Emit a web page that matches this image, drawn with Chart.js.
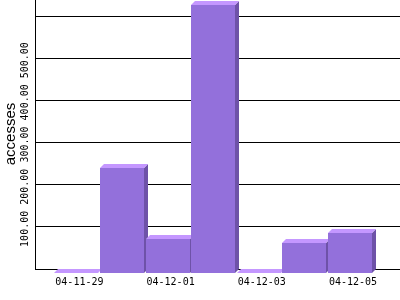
<!DOCTYPE html>
<html>
<head>
<meta charset="utf-8">
<script src="https://cdn.jsdelivr.net/npm/chart.js@4/dist/chart.umd.min.js"></script>
<style>
html,body{margin:0;padding:0;background:#fff;}
#c{display:block;}
</style>
</head>
<body>
<canvas id="c" width="400" height="300"></canvas>
<script>
const categories = ['04-11-29','04-11-30','04-12-01','04-12-02','04-12-03','04-12-04','04-12-05'];
const accesses = [0, 248, 80, 636, 0, 70, 96];
const yTickValues = [100, 200, 300, 400, 500];
const yTickLabels = ['100.00', '200.00', '300.00', '400.00', '500.00'];
const yTitle = 'accesses';

const FRONT = '#9370DB', TOP = '#C497FF', SIDE = '#6E52A8';

const box3d = {
  id: 'box3d',
  afterDatasetsDraw(chart) {
    const ctx = chart.ctx;
    const meta = chart.getDatasetMeta(0);
    const d = 4;
    ctx.save();
    meta.data.forEach(el => {
      const p = el.getProps(['x', 'y', 'base', 'width'], true);
      const w = Math.round(p.width);
      const fl = Math.round(p.x - d / 2 - w / 2);
      const fr = fl + w;
      const ft = Math.round(p.y) + d;
      const fb = Math.round(p.base) + d;
      // side
      ctx.fillStyle = SIDE;
      ctx.beginPath();
      ctx.moveTo(fr, ft); ctx.lineTo(fr + d, ft - d); ctx.lineTo(fr + d, fb - d); ctx.lineTo(fr, fb);
      ctx.closePath(); ctx.fill();
      // top
      ctx.fillStyle = TOP;
      ctx.beginPath();
      ctx.moveTo(fl, ft); ctx.lineTo(fl + d, ft - d); ctx.lineTo(fr + d, ft - d); ctx.lineTo(fr, ft);
      ctx.closePath(); ctx.fill();
      // front
      if (fb > ft) {
        ctx.fillStyle = FRONT;
        ctx.fillRect(fl, ft, w, fb - ft);
      }
    });
    ctx.restore();
  },
  afterDraw(chart) {
    const ctx = chart.ctx;
    const xs = chart.scales.x, ys = chart.scales.y;
    ctx.save();
    ctx.fillStyle = '#000';
    ctx.font = '10px "DejaVu Sans Mono"';
    // x labels
    ctx.textAlign = 'center';
    ctx.textBaseline = 'alphabetic';
    xs.ticks.forEach(t => {
      const lab = categories[t.value];
      if (lab === undefined) return;
      ctx.fillText(lab, xs.getPixelForValue(t.value) + 1, 285);
    });
    // y labels (rotated)
    yTickValues.forEach((v, i) => {
      const y = ys.getPixelForValue(v);
      ctx.save();
      ctx.translate(27.5, y + 2);
      ctx.rotate(-Math.PI / 2);
      ctx.textAlign = 'center';
      ctx.textBaseline = 'alphabetic';
      ctx.fillText(yTickLabels[i], 0, 0);
      ctx.restore();
    });
    // y title
    ctx.save();
    ctx.font = '15px "Liberation Sans"';
    ctx.translate(15, 134);
    ctx.rotate(-Math.PI / 2);
    ctx.textAlign = 'center';
    ctx.textBaseline = 'alphabetic';
    ctx.fillText(yTitle, 0, 0);
    ctx.restore();
    ctx.restore();
  }
};

new Chart(document.getElementById('c'), {
  type: 'bar',
  data: {
    datasets: [{
      data: accesses.map((v, i) => ({ x: i, y: v })),
      backgroundColor: 'rgba(0,0,0,0)',
      borderWidth: 0,
      barPercentage: 0.965,
      categoryPercentage: 1
    }]
  },
  options: {
    responsive: false,
    animation: false,
    devicePixelRatio: 1,
    layout: { padding: 0 },
    plugins: { legend: { display: false }, tooltip: { enabled: false }, title: { display: false } },
    scales: {
      x: {
        type: 'linear',
        offset: false,
        min: -0.9518,
        max: 7.0526,
        grid: { display: false, drawTicks: false, offset: false },
        border: { display: false },
        ticks: { stepSize: 2, includeBounds: false, display: false },
        afterFit(s) { s.height = 31; }
      },
      y: {
        min: 0,
        max: 638,
        grid: { color: '#000', lineWidth: 1, drawTicks: false },
        border: { display: true, color: '#000', width: 1 },
        ticks: { stepSize: 100, includeBounds: false, display: false },
        afterFit(s) { s.width = 35; }
      }
    }
  },
  plugins: [box3d]
});
</script>
</body>
</html>
